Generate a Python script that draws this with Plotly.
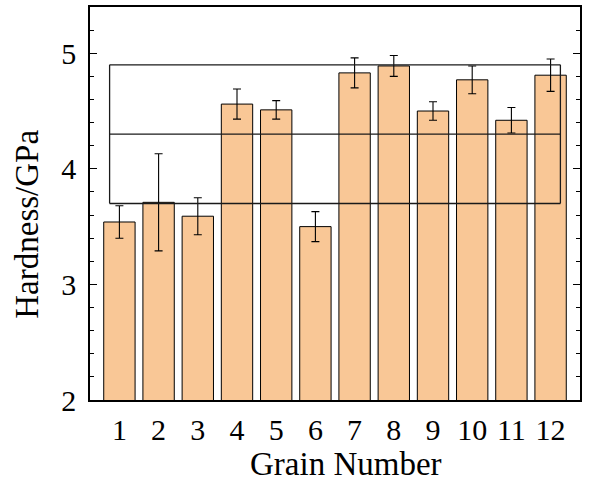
import plotly.graph_objects as go

grains = [1, 2, 3, 4, 5, 6, 7, 8, 9, 10, 11, 12]
hardness = [3.54, 3.71, 3.59, 4.56, 4.51, 3.50, 4.83, 4.89, 4.50, 4.77, 4.42, 4.81]
errors = [0.14, 0.42, 0.16, 0.13, 0.08, 0.13, 0.13, 0.09, 0.08, 0.12, 0.11, 0.14]
band_mean = 4.3
band_half = 0.6
band_x = [0.75, 12.25]
x_title = "Grain Number"
y_title = "Hardness/GPa"

FONT = "Liberation Serif, DejaVu Serif, serif"

fig = go.Figure()
fig.add_trace(go.Bar(
    x=grains, y=hardness, width=0.8,
    marker=dict(color="#F9C796", line=dict(color="black", width=1)),
    error_y=dict(type="data", array=errors, visible=True, color="black",
                 thickness=1.1, width=4),
    showlegend=False,
))

line = dict(color="#1a1a1a", width=1.3)
for yv in [band_mean - band_half, band_mean, band_mean + band_half]:
    fig.add_shape(type="line", x0=band_x[0], x1=band_x[1], y0=yv, y1=yv,
                  xref="x", yref="y", line=line, layer="above")
for xv in band_x:
    fig.add_shape(type="line", x0=xv, x1=xv, y0=band_mean - band_half,
                  y1=band_mean + band_half, xref="x", yref="y", line=line,
                  layer="above")

fig.add_annotation(text=x_title, xref="paper", yref="paper", x=0.522, y=-0.162,
                   xanchor="center", yanchor="middle", showarrow=False,
                   font=dict(family=FONT, size=33, color="black"))
fig.add_annotation(text=y_title, xref="paper", yref="paper", x=-0.129, y=0.448,
                   xanchor="center", yanchor="middle", showarrow=False, textangle=-90,
                   font=dict(family=FONT, size=33, color="black"))

fig.update_layout(
    width=590, height=486,
    margin=dict(l=90, r=10, t=5, b=86),
    plot_bgcolor="white", paper_bgcolor="white",
    font=dict(family=FONT, size=30, color="black"),
    bargap=0.2,
)
fig.update_xaxes(
    range=[0.25, 12.75], tickmode="array", tickvals=grains,
    ticktext=[str(g) for g in grains],
    showline=True, linecolor="black", linewidth=1.5, mirror=True,
    ticks="", showgrid=False, zeroline=False,
    ticklabelstandoff=2,
    tickfont=dict(family=FONT, size=30, color="black"),
)
fig.update_yaxes(
    range=[2, 5.4], tickvals=[2, 3, 4, 5],
    showline=True, linecolor="black", linewidth=1.5, mirror="ticks",
    ticks="inside", ticklen=7, tickwidth=1.2, tickcolor="black",
    minor=dict(dtick=0.2, ticks="inside", ticklen=4, tickwidth=1, tickcolor="black"),
    showgrid=False, zeroline=False,
    ticklabelstandoff=6,
    tickfont=dict(family=FONT, size=30, color="black"),
)

fig.write_html("out.html")
